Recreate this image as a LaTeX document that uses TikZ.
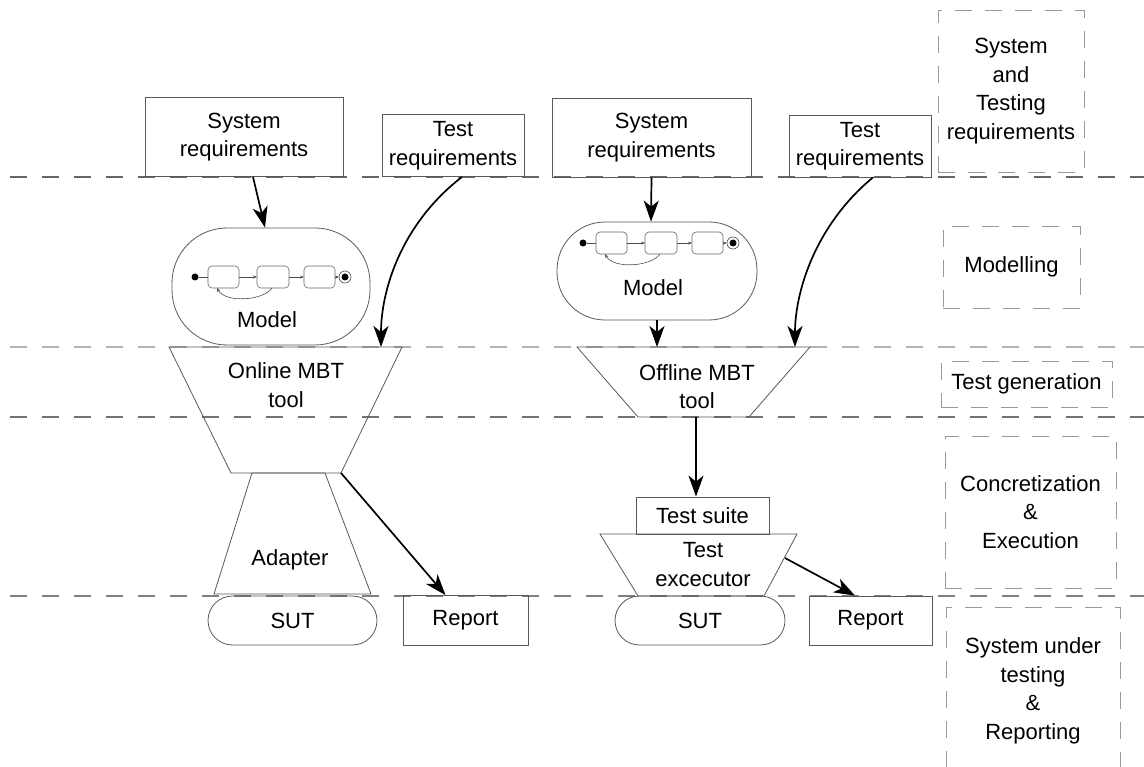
\documentclass[tikz,border=0pt]{standalone}
\usepackage{fontspec}
\setmainfont{Liberation Sans}
\usetikzlibrary{arrows.meta}
\begin{document}
\begin{tikzpicture}[x=1pt,y=-1pt,
  every node/.style={font=\fontsize{22}{28.5}\selectfont, align=center, inner sep=0pt},
  box/.style={draw=black!65, line width=0.8pt},
  shp/.style={draw=black!65, line width=0.8pt},
  sep/.style={dash pattern=on 17pt off 15pt, line width=1.1pt},
  lab/.style={draw=black!40, dash pattern=on 17pt off 13pt, line width=0.9pt},
  arr/.style={line width=1.7pt, -{Stealth[length=21pt,width=15pt,inset=6pt]}},
  st/.style={draw=black!60, line width=0.6pt, rounded corners=4pt},
  sta/.style={draw=black!70, line width=0.6pt, -{Stealth[length=4pt,width=3pt]}},
  sm/.pic={
    \fill (0,0) circle (3.5);
    \draw[st] (13,-11) rectangle (44,11);
    \draw[st] (62,-11) rectangle (94,11);
    \draw[st] (109,-11) rectangle (140,11);
    \draw[draw=black!70, line width=0.6pt] (150,0) circle (6);
    \fill (150,0) circle (3.5);
    \draw[draw=black!70, line width=0.6pt] (3.5,0) -- (13,0);
    \draw[sta] (44,0) -- (62,0);
    \draw[sta] (94,0) -- (109,0);
    \draw[sta] (140,0) -- (144,0);
    \draw[sta] (77,11) .. controls (68,24) and (30,26) .. (22,11);
  }
]
\useasboundingbox (0,0) rectangle (1144,767);

% phase separators
\draw[sep, black!60] (10,177) -- (1144,177);
\draw[sep, black!30] (10,347) -- (1144,347);
\draw[sep, black!55] (10,417) -- (1144,417);
\draw[sep, black!50] (10,596) -- (1144,596);

% phase labels
\node[lab, minimum width=146, minimum height=162] (l1) at (1011,91) {System\\and\\Testing\\requirements};
\node[lab, minimum width=137, minimum height=82] (l2) at (1011.5,267) {Modelling};
\node[lab, minimum width=171, minimum height=46] (l3) at (1026.5,384) {Test generation};
\node[lab, minimum width=171, minimum height=152] (l4) at (1030.5,512) {Concretization\\\&\\Execution};
\node[lab, minimum width=174, minimum height=168] (l5) at (1033,691) {System under\\testing\\\&\\Reporting};

% ---------- left (online) ----------
\node[box, minimum width=198, minimum height=79] (lsys) at (244,137) {System\\requirements};
\node[box, minimum width=142, minimum height=62] (ltest) at (453,145.5) {Test\\requirements};
\node[box, rounded corners=55pt, minimum width=198, minimum height=117] (lmodel) at (271,286.5) {};
\pic at (195,277) {sm};
\node (lmodeltxt) at (267,320) {Model};

\coordinate (on-tl) at (169,347);
\coordinate (on-tr) at (402,347);
\coordinate (on-br) at (341,473);
\coordinate (on-bl) at (231,473);
\draw[shp] (on-tl) -- (on-tr) -- (on-br) -- (on-bl) -- cycle;
\node (ontxt) at (286,385) {Online MBT\\tool};

\coordinate (ad-tl) at (252,473);
\coordinate (ad-tr) at (325,473);
\coordinate (ad-br) at (371,594);
\coordinate (ad-bl) at (214,594);
\draw[shp] (ad-tl) -- (ad-tr) -- (ad-br) -- (ad-bl) -- cycle;
\node (adtxt) at (290,560) {Adapter};

\node[box, rounded corners=24.5pt, minimum width=169, minimum height=49] (lsut) at (292.5,620.5) {SUT};
\node[box, minimum width=125, minimum height=50] (lrep) at (465.5,620.5) {Report};

\draw[arr] ([xshift=9pt]lsys.south) -- ([xshift=-6pt]lmodel.north);
\draw[arr] ([xshift=9pt]ltest.south) .. controls +(-62,48) and +(0,-55) .. ([xshift=-21pt]on-tr);
\draw[arr] (on-br) -- ([xshift=-20pt]lrep.north);

% ---------- right (offline) ----------
\node[box, minimum width=199, minimum height=79] (rsys) at (651.5,137.5) {System\\requirements};
\node[box, minimum width=142, minimum height=62] (rtest) at (860,146) {Test\\requirements};
\node[box, rounded corners=48pt, minimum width=200, minimum height=98] (rmodel) at (657,271) {};
\pic at (583,243) {sm};
\node (rmodeltxt) at (653,288) {Model};

\coordinate (off-tl) at (577,347);
\coordinate (off-tr) at (810,347);
\coordinate (off-br) at (749,417);
\coordinate (off-bl) at (638,417);
\coordinate (off-tm) at (657,347);
\coordinate (off-bm) at (696,417);
\draw[shp] (off-tl) -- (off-tr) -- (off-br) -- (off-bl) -- cycle;
\node (offtxt) at (697,386.5) {Offline MBT\\tool};

\node[box, minimum width=133, minimum height=37] (tsuite) at (702.5,515.5) {Test suite};

\coordinate (te-tl) at (600,534);
\coordinate (te-tr) at (797,534);
\coordinate (te-br) at (764,596);
\coordinate (te-bl) at (638,596);
\coordinate (te-r) at (785,558);
\draw[shp] (te-tl) -- (te-tr) -- (te-br) -- (te-bl) -- cycle;
\node (tetxt) at (703,564.5) {Test\\excecutor};

\node[box, rounded corners=24.5pt, minimum width=170, minimum height=49] (rsut) at (700,620.5) {SUT};
\node[box, minimum width=123, minimum height=49] (rrep) at (870.5,620.5) {Report};

\draw[arr] (rsys.south) -- ([xshift=-6pt]rmodel.north);
\draw[arr] (rmodel.south) -- (off-tm);
\draw[arr] ([xshift=13pt]rtest.south) .. controls +(-58,48) and +(0,-55) .. ([xshift=-15pt]off-tr);
\draw[arr] (off-bm) -- ([xshift=-6.5pt]tsuite.north);
\draw[arr] (te-r) -- ([xshift=-15.5pt]rrep.north);
\end{tikzpicture}
\end{document}
